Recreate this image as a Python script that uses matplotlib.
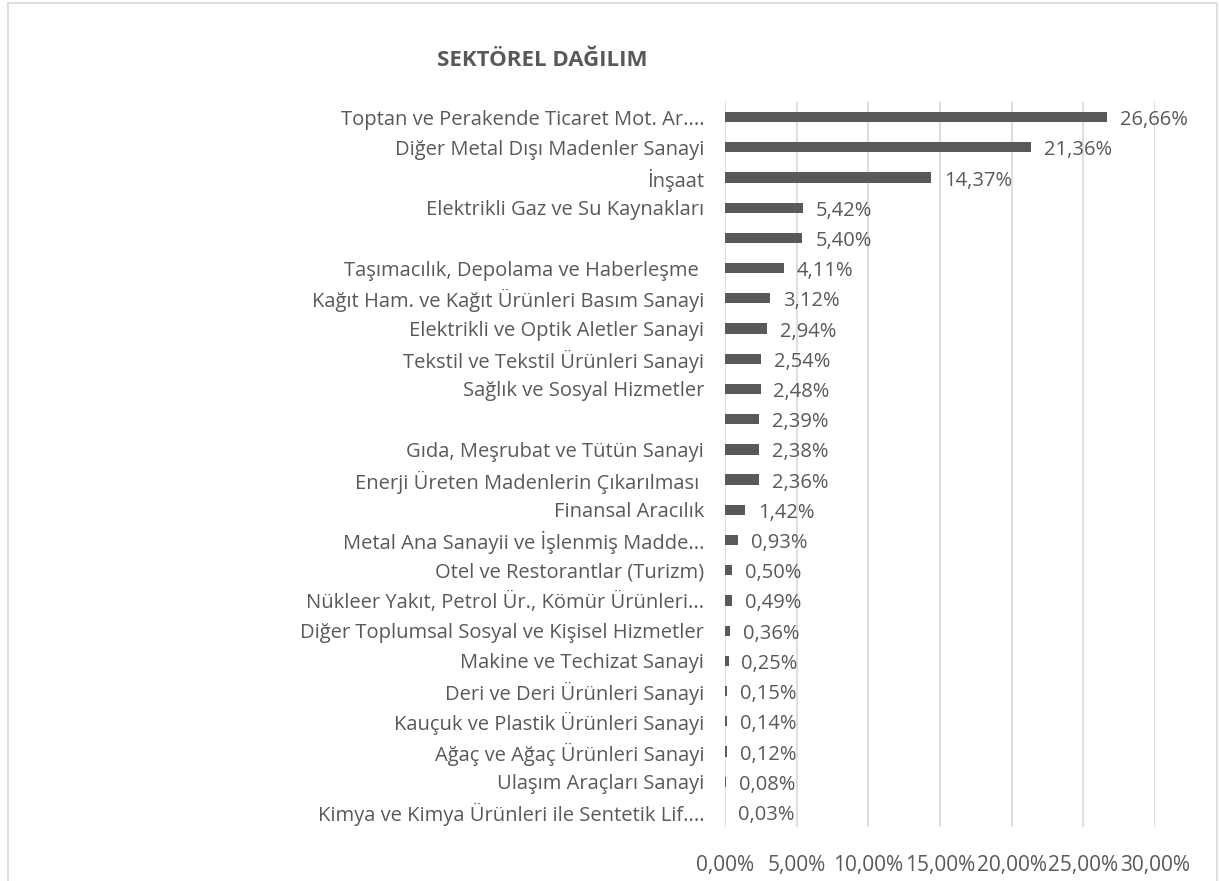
import matplotlib.pyplot as plt
from matplotlib.patches import Rectangle

# sectors, top to bottom as shown
sectors = [
    'Toptan ve Perakende Ticaret Mot. Ar....',
    'Diğer Metal Dışı Madenler Sanayi',
    'İnşaat',
    'Elektrikli Gaz ve Su Kaynakları',
    '',
    'Taşımacılık, Depolama ve Haberleşme ',
    'Kağıt Ham. ve Kağıt Ürünleri Basım Sanayi',
    'Elektrikli ve Optik Aletler Sanayi',
    'Tekstil ve Tekstil Ürünleri Sanayi',
    'Sağlık ve Sosyal Hizmetler',
    '',
    'Gıda, Meşrubat ve Tütün Sanayi',
    'Enerji Üreten Madenlerin Çıkarılması ',
    'Finansal Aracılık',
    'Metal Ana Sanayii ve İşlenmiş Madde...',
    'Otel ve Restorantlar (Turizm)',
    'Nükleer Yakıt, Petrol Ür., Kömür Ürünleri...',
    'Diğer Toplumsal Sosyal ve Kişisel Hizmetler',
    'Makine ve Techizat Sanayi',
    'Deri ve Deri Ürünleri Sanayi',
    'Kauçuk ve Plastik Ürünleri Sanayi',
    'Ağaç ve Ağaç Ürünleri Sanayi',
    'Ulaşım Araçları Sanayi',
    'Kimya ve Kimya Ürünleri ile Sentetik Lif....',
]
shares = [26.66, 21.36, 14.37, 5.42, 5.40, 4.11, 3.12, 2.94, 2.54, 2.48,
          2.39, 2.38, 2.36, 1.42, 0.93, 0.50, 0.49, 0.36, 0.25, 0.15,
          0.14, 0.12, 0.08, 0.03]
xticks = [0, 5, 10, 15, 20, 25, 30]

def pct(v):
    return f'{v:.2f}%'.replace('.', ',')

plt.rcParams['font.family'] = ['Open Sans', 'DejaVu Sans']
txt = '#595959'
fs = 14.5

fig = plt.figure(figsize=(12.19, 8.81), dpi=100)
ax = fig.add_axes([725 / 1219, 1 - 827 / 881, 430 / 1219, 725 / 881])

# chart area border
fig.patches.append(Rectangle((8 / 1219, -0.05), 1210 / 1219 - 0.0005, 1.05 - 3 / 881,
                             transform=fig.transFigure, fill=False,
                             edgecolor='#d9d9d9', linewidth=1.2))

y = list(range(len(sectors)))
ax.barh(y, shares, height=0.34, color='#595959', zorder=3)
for yi, v in zip(y, shares):
    ax.text(v + 0.9, yi + 0.1, pct(v), va='center', ha='left',
            fontsize=fs, color=txt)

ax.set_ylim(len(sectors) - 0.5, -0.5)
ax.set_xlim(0, 30)
ax.set_yticks(y)
ax.set_yticklabels(sectors, fontsize=fs, color=txt)
ax.set_xticks(xticks)
ax.set_xticklabels([pct(t) for t in xticks], fontsize=fs + 0.5, color=txt)
ax.tick_params(axis='y', length=0, pad=15)
ax.tick_params(axis='x', length=0, pad=20)
ax.grid(axis='x', color='#d9d9d9', linewidth=1.2, zorder=0)
for s in ax.spines.values():
    s.set_visible(False)

fig.text(437 / 1219, 1 - 60 / 881, 'SEKTÖREL DAĞILIM', fontsize=16,
         fontweight='bold', color=txt, va='center', ha='left')

fig.savefig('out.png', dpi=100)
